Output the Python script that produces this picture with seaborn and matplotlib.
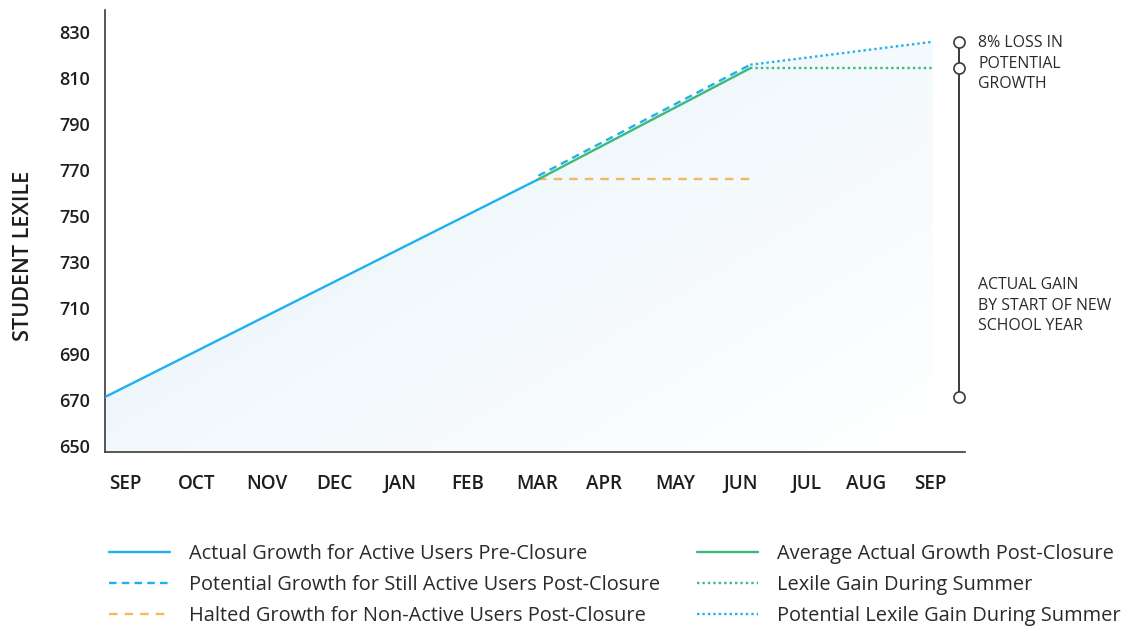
import numpy as np
import matplotlib
matplotlib.use("Agg")
import matplotlib.pyplot as plt
import seaborn as sns
from matplotlib.colors import LinearSegmentedColormap

# ---------------- data ----------------
months = ["SEP", "OCT", "NOV", "DEC", "JAN", "FEB", "MAR",
          "APR", "MAY", "JUN", "JUL", "AUG", "SEP"]
month_pos = [0.0, 1.06, 2.11, 3.12, 4.10, 5.10, 6.14,
             7.14, 8.20, 9.18, 10.15, 11.05, 12.0]
y_ticks = [650, 670, 690, 710, 730, 750, 770, 790, 810, 830]

pre_x = [-0.3, 6.16]
pre_y = [671.3, 766.0]               # Actual Growth for Active Users Pre-Closure
post_x = [6.16, 9.32]
potential_post_y = [767.5, 815.8]    # Potential Growth for Still Active Users
halted_y = [766.0, 766.0]            # Halted Growth for Non-Active Users
actual_post_y = [766.0, 814.3]       # Average Actual Growth Post-Closure
summer_x = [9.32, 12.04]
summer_y = [814.3, 814.3]            # Lexile Gain During Summer
potential_summer_y = [815.8, 825.8]  # Potential Lexile Gain During Summer

labels = ["Actual Growth for Active Users Pre-Closure",
          "Potential Growth for Still Active Users Post-Closure",
          "Halted Growth for Non-Active Users Post-Closure",
          "Average Actual Growth Post-Closure",
          "Lexile Gain During Summer",
          "Potential Lexile Gain During Summer"]

BLUE = "#1fb1ee"
GREEN = "#3dba78"
ORANGE = "#f8b85a"
DARK = "#3a3a3a"

sns.set_style("white")
plt.rcParams["font.family"] = ["Open Sans", "DejaVu Sans"]

fig = plt.figure(figsize=(11.21, 6.27), dpi=100)
ax = fig.add_axes([105 / 1121, 1 - 452 / 627, (965 - 105) / 1121, (452 - 10) / 627])

lw = 1.7
sns.lineplot(x=pre_x, y=pre_y, ax=ax, color=BLUE, lw=lw, label=labels[0], zorder=3)
sns.lineplot(x=post_x, y=potential_post_y, ax=ax, color=BLUE, lw=lw,
             linestyle=(0, (3.2, 2.2)), label=labels[1], zorder=3)
sns.lineplot(x=post_x, y=halted_y, ax=ax, color=ORANGE, lw=lw,
             linestyle=(0, (3.6, 3.0)), label=labels[2], zorder=3)
sns.lineplot(x=post_x, y=actual_post_y, ax=ax, color=GREEN, lw=lw,
             label=labels[3], zorder=4)
sns.lineplot(x=summer_x, y=summer_y, ax=ax, color=GREEN, lw=lw,
             linestyle=(0, (1.0, 1.3)), label=labels[4], zorder=3)
sns.lineplot(x=summer_x, y=potential_summer_y, ax=ax, color=BLUE, lw=lw,
             linestyle=(0, (1.0, 1.3)), label=labels[5], zorder=3)

# gradient fill under the upper envelope
env_x = pre_x + post_x[1:] + summer_x[1:]
env_y = pre_y + potential_post_y[1:] + potential_summer_y[1:]
ylo, yhi = 647.4, 839.6
poly = ax.fill_between(env_x, env_y, ylo, facecolor="none", edgecolor="none")
gx, gy = np.meshgrid(np.linspace(0, 1, 300), np.linspace(1, 0, 300))
t = np.clip(0.55 * gx + 0.45 * (1 - gy), 0, 1)
cmap = LinearSegmentedColormap.from_list("g", ["#e4f2fa", "#f3f9fd", "#ffffff"])
im = ax.imshow(t, cmap=cmap, extent=[env_x[0], env_x[-1], ylo, max(env_y)],
               aspect="auto", zorder=1, origin="upper", vmin=0, vmax=1)
im.set_clip_path(poly.get_paths()[0], transform=ax.transData)

ax.set_xlim(-0.3, 12.52)
ax.set_ylim(ylo, yhi)
ax.set_xticks(month_pos)
ax.set_xticklabels(months)
ax.set_yticks(y_ticks)
ax.tick_params(axis="both", length=0, colors="#1e1e1e")
ax.tick_params(axis="x", pad=16, labelsize=13.6)
ax.tick_params(axis="y", pad=10.5, labelsize=13)
for lab in ax.get_xticklabels() + ax.get_yticklabels():
    lab.set_fontweight(600)
ax.set_ylabel("STUDENT LEXILE", fontsize=15.6, fontweight=600, color="#1e1e1e")
ax.yaxis.set_label_coords(-71 / 860, 1 - (256 - 10) / 442)

for s in ["top", "right"]:
    ax.spines[s].set_visible(False)
for s in ["left", "bottom"]:
    ax.spines[s].set_color(DARK)
    ax.spines[s].set_linewidth(1.2)

# right-side annotation
ann_x = 12.43
ann_pts = [potential_summer_y[-1], summer_y[-1], pre_y[0]]
ax.plot([ann_x, ann_x], [ann_pts[-1], ann_pts[0]], color=DARK, lw=1.4, clip_on=False, zorder=5)
ax.plot([ann_x] * 3, ann_pts, "o", ms=8, mfc="white", mec=DARK, mew=1.2, clip_on=False, zorder=6)
ax.text(12.72, 828.6, "8% LOSS IN\nPOTENTIAL\nGROWTH", fontsize=11.4, color="#2a2a2a",
        va="top", ha="left", linespacing=1.36)
ax.text(12.72, 711, "ACTUAL GAIN\nBY START OF NEW\nSCHOOL YEAR", fontsize=11.4,
        color="#2a2a2a", va="center", ha="left", linespacing=1.36)

handles, labs = ax.get_legend_handles_labels()
if ax.get_legend() is not None:
    ax.get_legend().remove()
leg = fig.legend(handles, labs, ncol=2, loc="upper left",
                 bbox_to_anchor=(109 / 1121, 1 - 544 / 627), frameon=False,
                 fontsize=14.4, handlelength=3.05, handletextpad=0.95,
                 columnspacing=1.85, labelspacing=0.55, borderpad=0, borderaxespad=0)
for txt in leg.get_texts():
    txt.set_color("#2a2a2a")

fig.savefig("out.png", dpi=100)
